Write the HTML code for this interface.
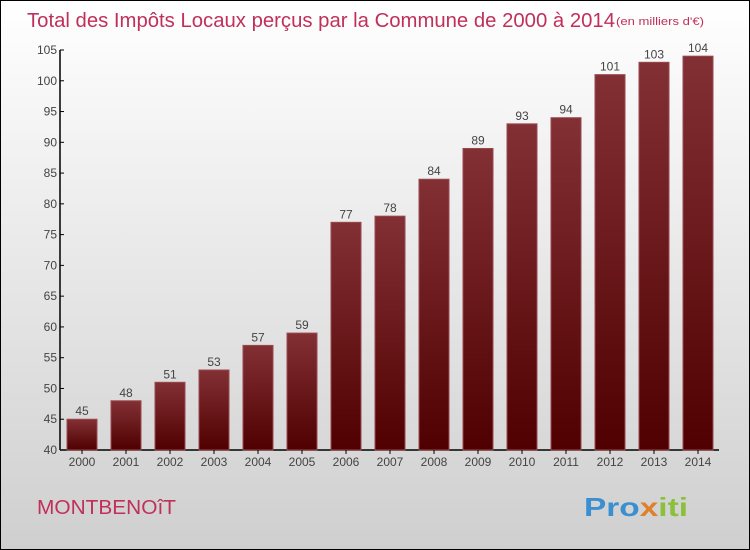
<!DOCTYPE html>
<html><head><meta charset="utf-8"><style>
body{margin:0}
#c{position:relative;width:748px;height:548px;border:1px solid #000;background:linear-gradient(#fff,#cfcfcf);font-family:"Liberation Sans",sans-serif;overflow:hidden}
</style></head><body>
<div id="c">
<svg width="748" height="548">
<defs><linearGradient id="g" x1="0" y1="0" x2="0" y2="1"><stop offset="0" stop-color="#833035"/><stop offset="1" stop-color="#500000"/></linearGradient></defs>
<text x="26" y="26" font-size="20" textLength="588" lengthAdjust="spacingAndGlyphs" fill="#c0305a">Total des Impôts Locaux perçus par la Commune de 2000 à 2014</text>
<text x="615" y="24" font-size="11" textLength="88" lengthAdjust="spacingAndGlyphs" fill="#c0305a">(en milliers d'€)</text>
<text x="36" y="513" font-size="20" textLength="139" lengthAdjust="spacingAndGlyphs" fill="#c0305a">MONTBENOîT</text>
<text x="583" y="515" font-size="26" font-weight="bold" textLength="104" lengthAdjust="spacingAndGlyphs" fill="#3a8fd0">Pro<tspan fill="#e0802a">x</tspan><tspan fill="#8bc03a">iti</tspan></text>
<g id="plot"></g>
</svg></div>
<script>
const years=["2000","2001","2002","2003","2004","2005","2006","2007","2008","2009","2010","2011","2012","2013","2014"];
const values=[45,48,51,53,57,59,77,78,84,89,93,94,101,103,104];
const ticks=[40,45,50,55,60,65,70,75,80,85,90,95,100,105];
const NS="http://www.w3.org/2000/svg",g=document.getElementById('plot');
const y=v=>449-(v-40)*400/65, x=i=>81+i*44;
function el(t,a){const e=document.createElementNS(NS,t);for(const k in a)e.setAttribute(k,a[k]);g.appendChild(e);return e;}
const ya=el('line',{x1:59,y1:49,x2:59,y2:449,stroke:'#000','stroke-width':1.5});

const xa=el('line',{x1:59,y1:449,x2:718,y2:449,stroke:'#000','stroke-width':1.5});

ticks.forEach(t=>{const l=el('line',{x1:59,x2:63,y1:y(t),y2:y(t),stroke:'#000'});

const tx=el('text',{x:56,y:y(t)+4,'font-size':12,fill:'#444','text-anchor':'end'});tx.textContent=t;
});
values.forEach((v,i)=>{const r=el('rect',{x:x(i)-15,y:y(v),width:30,height:449-y(v),fill:'url(#g)',stroke:'#9a4a50','stroke-width':1});

const lb=el('text',{x:x(i),y:y(v)-4,'font-size':12,fill:'#444','text-anchor':'middle'});lb.textContent=v;

const tk=el('line',{x1:x(i),x2:x(i),y1:449,y2:453,stroke:'#000'});

const xl=el('text',{x:x(i),y:465,'font-size':12,fill:'#444','text-anchor':'middle'});xl.textContent=years[i];
});
</script>
</body></html>
